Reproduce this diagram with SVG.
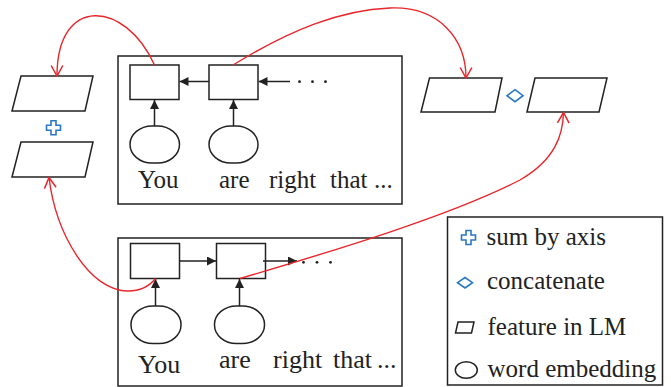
<svg xmlns="http://www.w3.org/2000/svg" width="671" height="387" viewBox="0 0 671 387">
  <style>
    .box { fill: #fff; stroke: #222; stroke-width: 1.5; }
    .cell { fill: #fff; stroke: #222; stroke-width: 1.5; }
    .emb { fill: #fff; stroke: #222; stroke-width: 1.5; }
    .feat { fill: #fff; stroke: #222; stroke-width: 1.5; stroke-linejoin: miter; }
    .op { fill: #fff; stroke: #2a78c2; stroke-width: 1.6; stroke-linejoin: miter; }
    .flow { fill: none; stroke: #222; stroke-width: 1.5; }
    .link { fill: none; stroke: #e8262b; stroke-width: 1.4; }
    .dot { fill: #222; }
    text { font-family: "Liberation Serif", "Times New Roman", serif; fill: #222; }
    .word { font-size: 25px; }
    .word2 { font-size: 26px; }
    .legend { font-size: 25px; }
  </style>
  <defs>
    <marker id="tri" viewBox="0 0 10 10" refX="10" refY="5" markerWidth="9" markerHeight="9" markerUnits="userSpaceOnUse" orient="auto">
      <path d="M0,0 L10,5 L0,10 Z" fill="#222"/>
    </marker>
    <marker id="vee" viewBox="0 0 12 12" refX="11" refY="6" markerWidth="14" markerHeight="14" markerUnits="userSpaceOnUse" orient="auto">
      <path d="M2,1 L11,6 L2,11" fill="none" stroke="#e8262b" stroke-width="1.3"/>
    </marker>
    <polygon id="plus" points="-2.5,-7 2.5,-7 2.5,-2.5 7,-2.5 7,2.5 2.5,2.5 2.5,7 -2.5,7 -2.5,2.5 -7,2.5 -7,-2.5 -2.5,-2.5"/>
  </defs>

  <rect width="671" height="387" fill="#fff"/>

  <!-- upper language model (backward) -->
  <g id="lm-backward">
    <rect class="box" x="118" y="56" width="284" height="148"/>
    <rect class="cell" x="130" y="65" width="49" height="34.5"/>
    <rect class="cell" x="209" y="65" width="49" height="34.5"/>
    <rect class="emb" x="130" y="126" width="49.5" height="37" rx="22" ry="18.5"/>
    <rect class="emb" x="209" y="126" width="49" height="37" rx="22" ry="18.5"/>
    <line class="flow" x1="209" y1="81.5" x2="179.5" y2="81.5" marker-end="url(#tri)"/>
    <line class="flow" x1="290" y1="81.5" x2="258.5" y2="81.5" marker-end="url(#tri)"/>
    <line class="flow" x1="154.5" y1="126" x2="154.5" y2="100" marker-end="url(#tri)"/>
    <line class="flow" x1="233.5" y1="126" x2="233.5" y2="100" marker-end="url(#tri)"/>
    <circle class="dot" cx="299.5" cy="81.7" r="1.4"/>
    <circle class="dot" cx="312.5" cy="81.7" r="1.4"/>
    <circle class="dot" cx="325.5" cy="81.7" r="1.4"/>
    <text class="word" x="138" y="188">You</text>
    <text class="word" x="219" y="187.5">are</text>
    <text class="word" x="269" y="188">right</text>
    <text class="word" x="330" y="188">that</text>
    <text class="word" x="374" y="188">...</text>
  </g>

  <!-- lower language model (forward) -->
  <g id="lm-forward">
    <rect class="box" x="118" y="238" width="284" height="148"/>
    <rect class="cell" x="130.5" y="243.5" width="49" height="35"/>
    <rect class="cell" x="216.5" y="243.5" width="49" height="35"/>
    <rect class="emb" x="131" y="306" width="50" height="37.5" rx="22" ry="18.5"/>
    <rect class="emb" x="214.5" y="306" width="50" height="37.5" rx="22" ry="18.5"/>
    <line class="flow" x1="179.5" y1="261" x2="216" y2="261" marker-end="url(#tri)"/>
    <line class="flow" x1="263" y1="261" x2="297" y2="261" marker-end="url(#tri)"/>
    <line class="flow" x1="155.5" y1="306" x2="155.5" y2="279" marker-end="url(#tri)"/>
    <line class="flow" x1="239.5" y1="306" x2="239.5" y2="279" marker-end="url(#tri)"/>
    <circle class="dot" cx="303.5" cy="262.3" r="1.4"/>
    <circle class="dot" cx="317" cy="262.3" r="1.4"/>
    <circle class="dot" cx="330.5" cy="262.3" r="1.4"/>
    <text class="word2" x="138" y="372.5">You</text>
    <text class="word2" x="219" y="368">are</text>
    <text class="word2" x="273" y="367.5">right</text>
    <text class="word2" x="333" y="367.5">that</text>
    <text class="word2" x="377" y="367.5">...</text>
  </g>

  <!-- summed features -->
  <g id="sum-features">
    <polygon class="feat" points="21,76 93,76 85,111 12,111"/>
    <use href="#plus" class="op" transform="translate(53.5,127.7)"/>
    <polygon class="feat" points="21,142 93,142 85,177 12,177"/>
  </g>

  <!-- concatenated features -->
  <g id="concat-features">
    <polygon class="feat" points="429.5,78 502,78 495,112 421,112"/>
    <polygon class="op" points="515,89.7 523,95.7 515,101.7 507,95.7"/>
    <polygon class="feat" points="535,78 607,78 599,112 527,112"/>
  </g>

  <!-- feature routing -->
  <g id="connectors">
    <path class="link" d="M154.5,65 C125,0 57,-5 57,76" marker-end="url(#vee)"/>
    <path class="link" d="M233,65 C290,30 340,10 390,8 C440,6 466,40 466,78" marker-end="url(#vee)"/>
    <path class="link" d="M155.5,278.5 C148,288 138,291 128,291 C90,291 56,235 49,177.5" marker-end="url(#vee)"/>
    <path class="link" d="M240,278.5 C330,252 450,216 520,180 C555,160 563,135 563.5,112.5" marker-end="url(#vee)"/>
  </g>

  <!-- legend -->
  <g id="legend">
    <rect class="box" x="447.5" y="217" width="215" height="168"/>
    <use href="#plus" class="op" transform="translate(468.5,237.5)"/>
    <text class="legend" x="486.5" y="244.5">sum by axis</text>
    <polygon class="op" points="465,277.5 472.5,282.7 465,288 457.5,282.7"/>
    <text class="legend" x="487" y="288.5">concatenate</text>
    <polygon class="feat" points="458,322 474,322 471.5,333 455.5,333"/>
    <text class="legend" x="487.5" y="335">feature in LM</text>
    <ellipse class="feat" cx="466.3" cy="370" rx="11" ry="8.3"/>
    <text class="legend" x="487.5" y="376.5">word embedding</text>
  </g>
</svg>
